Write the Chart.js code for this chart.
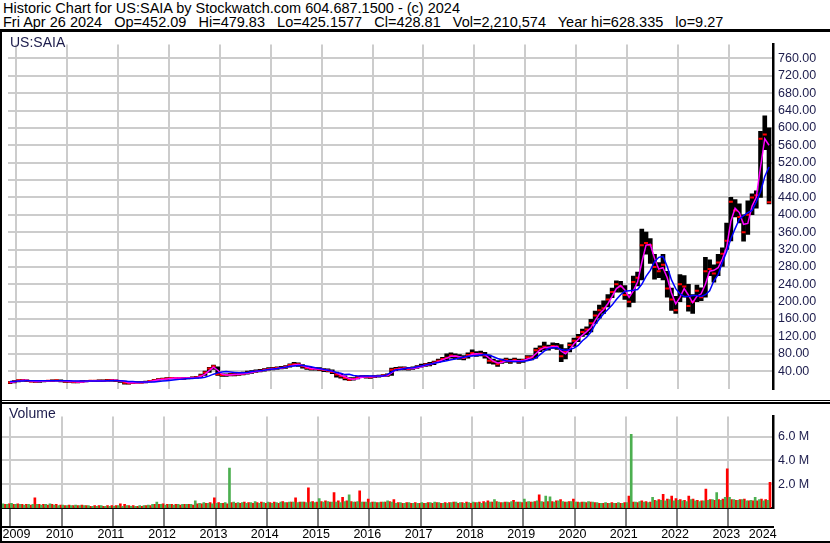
<!DOCTYPE html>
<html>
<head>
<meta charset="utf-8">
<script src="https://cdn.jsdelivr.net/npm/chart.js@4.4.1/dist/chart.umd.min.js"></script>
<style>
  body { margin: 0; background: #fff; font-family: "Liberation Sans", Arial, sans-serif; }
  #wrap { position: relative; width: 830px; height: 543px; overflow: hidden; background: #fff; }
  .txt { position: absolute; white-space: pre; font-size: 14.5px; line-height: 13px; }
  .lbl { position: absolute; white-space: pre; font-size: 14px; line-height: 13px; color: #1c1c4c; }
  .bar { position: absolute; background: #000; }
  #pricebox { position: absolute; left: 2px; top: 32px; width: 828px; height: 369px; }
  #volbox { position: absolute; left: 2px; top: 404px; width: 828px; height: 137px; }
</style>
</head>
<body>
<div id="wrap">
  <div class="txt" style="left:3px;top:2px;">Historic Chart for US:SAIA by Stockwatch.com 604.687.1500 - (c) 2024</div>
  <div class="txt" style="left:3px;top:16px;">Fri Apr 26 2024   Op=452.09   Hi=479.83   Lo=425.1577   Cl=428.81   Vol=2,210,574   Year hi=628.335   lo=9.27</div>
  <div class="bar" style="left:0;top:29px;width:830px;height:3px;"></div>
  <div id="pricebox"><canvas id="price"></canvas></div>
  <div id="volbox"><canvas id="vol"></canvas></div>
  <div class="bar" style="left:0;top:400px;width:830px;height:1px;"></div>
  <div class="bar" style="left:0;top:402px;width:830px;height:2px;"></div>
  <div class="bar" style="left:0;top:541px;width:830px;height:2px;"></div>
  <div class="bar" style="left:0;top:32px;width:2px;height:511px;"></div>
  <div class="lbl" style="left:10px;top:36px;">US:SAIA</div>
  <div class="lbl" style="left:9px;top:407px;">Volume</div>
</div>
<script>
// monthly bars, first month = May 2009, last = Apr 2024
let firstYear = 2009;
let firstMonth = 5;

let high = [
  16, 18, 20, 21, 20, 19, 18, 18, // 2009
  19, 19, 20, 20, 20, 18, 17, 17, 17, 18, 19, 19, // 2010
  19, 20, 20, 21, 21, 20, 19, 17, 14, 15, 16, 16, // 2011
  17, 19, 21, 23, 24, 25, 26, 26, 26, 26, 26, 27, // 2012
  28, 33, 40, 49, 54, 50, 34, 34, 35, 35, 36, 38, // 2013
  40, 41, 43, 44, 46, 48, 49, 50, 51, 53, 57, 60, // 2014
  59, 55, 51, 49, 49, 48, 46, 45, 43, 38, 33, 29, // 2015
  25, 25, 28, 30, 30, 29, 30, 31, 32, 34, 47, 49, // 2016
  50, 50, 49, 50, 53, 56, 58, 60, 63, 68, 72, 80, // 2017
  82, 80, 78, 76, 82, 89, 85, 86, 83, 77, 68, 64, // 2018
  68, 70, 68, 70, 68, 68, 76, 76, 93, 98, 107, 100, // 2019
  105, 104, 101, 92, 105, 116, 125, 137, 142, 159, 178, 192, // 2020
  202, 216, 231, 248, 247, 237, 216, 259, 268, 367, 360, 345, // 2021
  309, 290, 309, 270, 231, 212, 262, 260, 240, 216, 238, 232, // 2022
  302, 296, 285, 309, 324, 381, 440, 435, 425, 400, 432, 448, // 2023
  455, 592, 628, 600 // 2024
];
let low = [
  11, 13, 15, 17, 16, 15, 14, 14,
  15, 16, 16, 17, 15, 14, 14, 13, 13, 14, 15, 16,
  16, 16, 16, 17, 17, 16, 14, 10, 10, 11, 12, 12,
  13, 15, 17, 19, 20, 21, 22, 22, 22, 21, 22, 23,
  24, 26, 30, 37, 44, 30, 28, 28, 29, 29, 30, 31,
  33, 35, 37, 38, 40, 42, 43, 44, 45, 46, 49, 52,
  51, 47, 44, 42, 42, 41, 39, 38, 34, 26, 24, 20,
  18, 19, 22, 25, 24, 23, 25, 26, 27, 28, 30, 41,
  43, 43, 42, 44, 46, 49, 51, 52, 55, 60, 63, 66,
  70, 68, 67, 66, 70, 76, 74, 75, 70, 58, 56, 51,
  58, 60, 58, 61, 58, 60, 64, 66, 70, 85, 88, 88,
  92, 90, 62, 68, 84, 97, 108, 120, 124, 130, 150, 162,
  173, 188, 209, 222, 222, 205, 188, 198, 236, 250, 309, 288,
  252, 255, 250, 210, 180, 173, 200, 210, 178, 173, 200, 202,
  210, 260, 245, 260, 281, 320, 340, 395, 381, 339, 355, 400,
  415, 440, 550, 425
];
let close = [
  14, 16, 19, 19, 18, 16, 16, 17,
  17, 18, 18, 19, 17, 16, 16, 15, 15, 16, 17, 18,
  18, 18, 18, 19, 19, 18, 17, 13, 12, 13, 14, 14,
  15, 17, 19, 21, 22, 23, 24, 24, 24, 23, 24, 25,
  26, 30, 37, 46, 51, 33, 31, 31, 32, 32, 33, 34,
  36, 38, 40, 41, 43, 45, 46, 47, 48, 50, 54, 56,
  56, 51, 47, 45, 46, 44, 43, 41, 38, 32, 28, 24,
  20, 22, 26, 28, 27, 26, 28, 29, 30, 31, 43, 45,
  46, 47, 45, 47, 50, 52, 55, 56, 60, 64, 68, 71,
  76, 74, 72, 70, 77, 82, 78, 80, 76, 64, 62, 56,
  63, 66, 62, 66, 62, 65, 72, 72, 88, 92, 96, 94,
  98, 96, 74, 85, 100, 110, 118, 130, 136, 150, 168, 180,
  185, 205, 222, 240, 235, 215, 200, 245, 255, 330, 335, 330,
  280, 270, 285, 230, 205, 180, 240, 235, 190, 200, 225, 210,
  270, 275, 265, 290, 310, 340, 430, 410, 395, 360, 400, 440,
  445, 575, 585, 429
];
// short moving average (magenta)
let maShort = [
  14, 15, 17, 19, 19, 17, 16, 16,
  17, 17, 18, 18, 18, 17, 16, 16, 15, 15, 16, 17,
  18, 18, 18, 18, 19, 19, 18, 16, 13, 13, 13, 14,
  14, 16, 18, 20, 21, 22, 23, 24, 24, 24, 24, 24,
  25, 28, 33, 41, 49, 42, 33, 31, 31, 32, 33, 34,
  35, 37, 39, 40, 42, 44, 45, 46, 47, 49, 51, 54,
  55, 53, 49, 46, 45, 45, 43, 42, 40, 36, 31, 27,
  23, 21, 23, 26, 27, 27, 27, 28, 29, 30, 36, 43,
  45, 46, 46, 46, 48, 50, 53, 55, 58, 62, 66, 70,
  74, 75, 73, 71, 74, 79, 80, 79, 78, 70, 63, 59,
  60, 64, 64, 64, 64, 64, 68, 71, 80, 89, 94, 95,
  96, 97, 86, 80, 90, 103, 113, 123, 131, 140, 157, 172,
  182, 195, 212, 230, 237, 227, 210, 225, 245, 290, 330, 332,
  300, 275, 278, 255, 220, 195, 210, 230, 215, 198, 212, 218,
  240, 270, 272, 278, 298, 325, 385, 415, 405, 378, 380, 420,
  440, 510, 575, 560
];
// long moving average (blue)
let maLong = [
  16, 16, 17, 17, 18, 18, 18, 18,
  18, 18, 18, 18, 18, 18, 18, 17, 17, 17, 17, 17,
  17, 17, 17, 18, 18, 18, 18, 17, 16, 16, 15, 15,
  15, 15, 15, 16, 17, 18, 19, 20, 21, 22, 23, 23,
  24, 24, 26, 29, 33, 36, 38, 39, 38, 37, 36, 36,
  37, 39, 40, 41, 42, 44, 45, 46, 48, 49, 51, 52,
  53, 53, 52, 50, 48, 46, 44, 42, 40, 37, 35, 32,
  33, 30, 29, 29, 29, 29, 29, 29, 29, 32, 38, 43,
  44, 46, 47, 48, 50, 52, 54, 56, 58, 60, 62, 64,
  66, 68, 70, 72, 74, 75, 76, 77, 78, 77, 73, 69,
  66, 64, 63, 62, 62, 63, 64, 66, 70, 78, 86, 92,
  94, 94, 90, 88, 90, 93, 99, 110, 118, 130, 147, 160,
  172, 182, 192, 205, 216, 224, 225, 226, 228, 240, 258, 272,
  292, 302, 304, 281, 250, 230, 218, 212, 212, 214, 214, 212,
  216, 225, 248, 262, 290, 315, 345, 368, 390, 398, 405, 410,
  430, 453, 488, 510
];
// volume in millions, up-days (green) and down-days (red)
let volUp = [
  0.35, 0.3, 0.4, 0.3, 0.3, 0.25, 0.3, 0.3,
  0.3, 0.25, 0.3, 0.35, 0.25, 0.2, 0.25, 0.2, 0.2, 0.25, 0.2, 0.2,
  0.2, 0.15, 0.15, 0.2, 0.15, 0.15, 0.15, 0.2, 0.15, 0.2, 0.15, 0.15,
  0.2, 0.2, 0.25, 0.3, 0.5, 0.3, 0.25, 0.3, 0.25, 0.3, 0.3, 0.3,
  0.3, 0.6, 0.4, 0.45, 0.4, 0.35, 0.4, 0.4, 0.45, 3.35, 0.5, 0.45,
  0.45, 0.4, 0.45, 0.55, 0.4, 0.45, 0.5, 0.4, 0.45, 0.5, 0.45, 0.5,
  0.5, 0.45, 0.5, 0.45, 0.5, 0.45, 0.8, 0.5, 0.55, 0.5, 0.5, 0.45,
  0.55, 1.1, 0.5, 0.55, 0.5, 0.5, 0.45, 0.5, 0.45, 0.5, 0.6, 0.5,
  0.4, 0.45, 0.4, 0.45, 0.4, 0.4, 0.45, 0.4, 0.45, 0.5, 0.45, 0.4,
  0.4, 0.45, 0.5, 0.45, 0.4, 0.45, 0.5, 0.45, 0.4, 0.45, 0.5, 0.7,
  0.5, 0.45, 0.5, 0.55, 0.5, 0.5, 0.75, 0.55, 0.5, 0.6, 0.55, 1.0,
  0.95, 0.5, 0.6, 0.55, 0.5, 0.55, 0.5, 0.45, 0.5, 0.55, 0.5, 0.45,
  0.4, 0.45, 0.4, 0.4, 0.45, 0.4, 0.45, 6.2, 0.5, 0.55, 0.5, 0.45,
  0.9, 0.6, 0.65, 0.6, 0.7, 0.6, 0.65, 0.6, 0.55, 0.7, 0.6, 0.55,
  0.6, 0.65, 0.7, 1.3, 0.65, 0.9, 0.9, 0.7, 0.65, 0.7, 0.6, 0.65,
  0.9, 0.7, 0.6, 0.65
];
let volDown = [
  0.3, 0.35, 0.3, 0.35, 0.3, 0.3, 0.25, 0.85,
  0.3, 0.3, 0.25, 0.3, 0.3, 0.25, 0.2, 0.25, 0.2, 0.2, 0.25, 0.2,
  0.15, 0.2, 0.2, 0.15, 0.2, 0.2, 0.2, 0.35, 0.3, 0.2, 0.2, 0.15,
  0.15, 0.2, 0.2, 0.3, 0.3, 0.35, 0.3, 0.3, 0.3, 0.25, 0.3, 0.3,
  0.25, 0.35, 0.35, 0.4, 0.45, 0.85, 0.45, 0.4, 0.35, 0.45, 0.4, 0.4,
  0.5, 0.45, 0.4, 0.45, 0.5, 0.4, 0.45, 0.5, 0.4, 0.55, 0.45, 0.5,
  0.85, 0.5, 0.5, 1.7, 0.55, 0.5, 0.55, 0.6, 0.5, 1.3, 0.6, 0.9,
  0.6, 0.55, 0.5, 1.45, 0.5, 0.75, 0.5, 0.45, 0.5, 0.5, 0.55, 0.7,
  0.45, 0.4, 0.45, 0.4, 0.45, 0.4, 0.4, 0.45, 0.4, 0.45, 0.4, 0.45,
  0.45, 0.5, 0.4, 0.45, 0.5, 0.4, 0.45, 0.5, 0.55, 0.6, 0.5, 0.55,
  0.45, 0.5, 0.45, 0.65, 0.5, 0.45, 0.5, 0.5, 0.55, 1.1, 0.5, 0.55,
  0.55, 0.6, 0.7, 0.5, 0.55, 0.75, 0.5, 0.5, 0.45, 0.5, 0.45, 0.4,
  0.4, 0.4, 0.45, 0.4, 0.4, 0.45, 1.0, 0.5, 0.45, 0.6, 0.55, 0.5,
  0.65, 0.7, 1.15, 0.75, 1.0, 0.8, 0.7, 0.65, 1.0, 0.75, 0.65, 0.6,
  1.6, 0.7, 0.65, 0.7, 0.75, 3.3, 0.7, 0.65, 0.7, 0.75, 0.6, 0.6,
  0.6, 0.75, 0.7, 2.15
];
let priceTicks = [40, 80, 120, 160, 200, 240, 280, 320, 360, 400, 440, 480, 520, 560, 600, 640, 680, 720, 760];
let volTicks = [2, 4, 6];
let years = [2009, 2010, 2011, 2012, 2013, 2014, 2015, 2016, 2017, 2018, 2019, 2020, 2021, 2022, 2023, 2024];

// time axis in fractional years
let xMin = 2009.337;
let xMax = 2024.37;
let navy = "#1c1c4c";
let gridGray = "#cccccc";

Chart.defaults.font.family = "'Liberation Sans', Arial, sans-serif";
Chart.defaults.font.size = 12;
Chart.defaults.animation = false;

function monthPos(i) {
  let m = firstMonth - 1 + i;
  return firstYear + Math.floor(m / 12) + (m % 12) / 12 + 1 / 24;
}

let hiLo = [], closePts = [], shortPts = [], longPts = [], upPts = [], downPts = [];
for (let i = 0; i < close.length; i++) {
  let t = monthPos(i);
  hiLo.push({ x: t, y: [low[i], high[i]] });
  closePts.push({ x: t, y: close[i] });
  shortPts.push({ x: t, y: maShort[i] });
  longPts.push({ x: t, y: maLong[i] });
  upPts.push({ x: t, y: volUp[i] });
  downPts.push({ x: t, y: volDown[i] });
}

function yearTicks(axis) {
  axis.ticks = years.slice(1).map(v => ({ value: v }));
}

new Chart(document.getElementById("price"), {
  type: "bar",
  data: {
    datasets: [
      { data: hiLo, backgroundColor: "#000", barThickness: 4, order: 4 },
      {
        type: "line", data: closePts, showLine: false, pointStyle: "line",
        pointRadius: 2, pointBorderWidth: 2, pointBorderColor: "#ff0000", order: 3
      },
      { type: "line", data: shortPts, borderColor: "#ff00ff", borderWidth: 1.5, pointRadius: 0, order: 2 },
      { type: "line", data: longPts, borderColor: "#0000ff", borderWidth: 1.5, pointRadius: 0, order: 1 }
    ]
  },
  options: {
    responsive: true,
    maintainAspectRatio: false,
    layout: { padding: 0 },
    plugins: { legend: { display: false }, tooltip: { enabled: false } },
    scales: {
      x: {
        type: "linear", min: xMin, max: xMax, offset: false,
        afterBuildTicks: yearTicks,
        afterFit: (a) => { a.height = 0; },
        ticks: { display: false },
        grid: { color: gridGray, lineWidth: 2, drawTicks: false },
        border: { display: false }
      },
      y: {
        position: "right", min: 0, max: 792,
        afterBuildTicks: (a) => { a.ticks = priceTicks.map(v => ({ value: v })); },
        afterFit: (a) => { a.width = 57; },
        ticks: { color: navy, padding: 5, font: { size: 12.5 }, callback: (v) => v.toFixed(2) },
        grid: { color: gridGray, lineWidth: 2, drawTicks: false },
        border: { color: "#000", width: 2.5 }
      }
    }
  }
});

new Chart(document.getElementById("vol"), {
  type: "bar",
  data: {
    datasets: [
      { data: upPts, backgroundColor: "#4caf50", barThickness: 2 },
      { data: downPts, backgroundColor: "#ff0000", barThickness: 2 }
    ]
  },
  options: {
    responsive: true,
    maintainAspectRatio: false,
    layout: { padding: 0 },
    plugins: { legend: { display: false }, tooltip: { enabled: false } },
    scales: {
      x: {
        type: "linear", min: xMin, max: xMax, offset: false, position: "bottom",
        afterBuildTicks: yearTicks,
        afterFit: (a) => { a.height = 19; },
        ticks: { display: false },
        grid: { color: gridGray, lineWidth: 2, drawTicks: true, tickLength: 18, tickColor: "#000", tickWidth: 1 },
        border: { color: "#000", width: 2 }
      },
      x2: {
        type: "linear", min: xMin, max: xMax, offset: false, position: "bottom",
        afterBuildTicks: (a) => {
          let pos = years.map(y => y + 0.46);
          pos[0] = 2009.62;
          pos[pos.length - 1] = 2024.17;
          a.ticks = pos.map(v => ({ value: v }));
        },
        afterFit: (a) => { a.height = 14; },
        ticks: { color: "#000", padding: 0, font: { size: 12.5 }, maxRotation: 0, autoSkip: false, callback: (v) => String(Math.floor(v)) },
        grid: { display: false, drawTicks: false },
        border: { color: "#000", width: 2 }
      },
      y: {
        position: "right", min: 0, max: 7.7,
        afterBuildTicks: (a) => { a.ticks = volTicks.map(v => ({ value: v })); },
        afterFit: (a) => { a.width = 57; },
        ticks: { color: navy, padding: 5, font: { size: 12.5 }, callback: (v) => v.toFixed(1) + " M" },
        grid: { color: gridGray, lineWidth: 2, drawTicks: false },
        border: { color: "#000", width: 2.5 }
      }
    }
  }
});
</script>
</body>
</html>
